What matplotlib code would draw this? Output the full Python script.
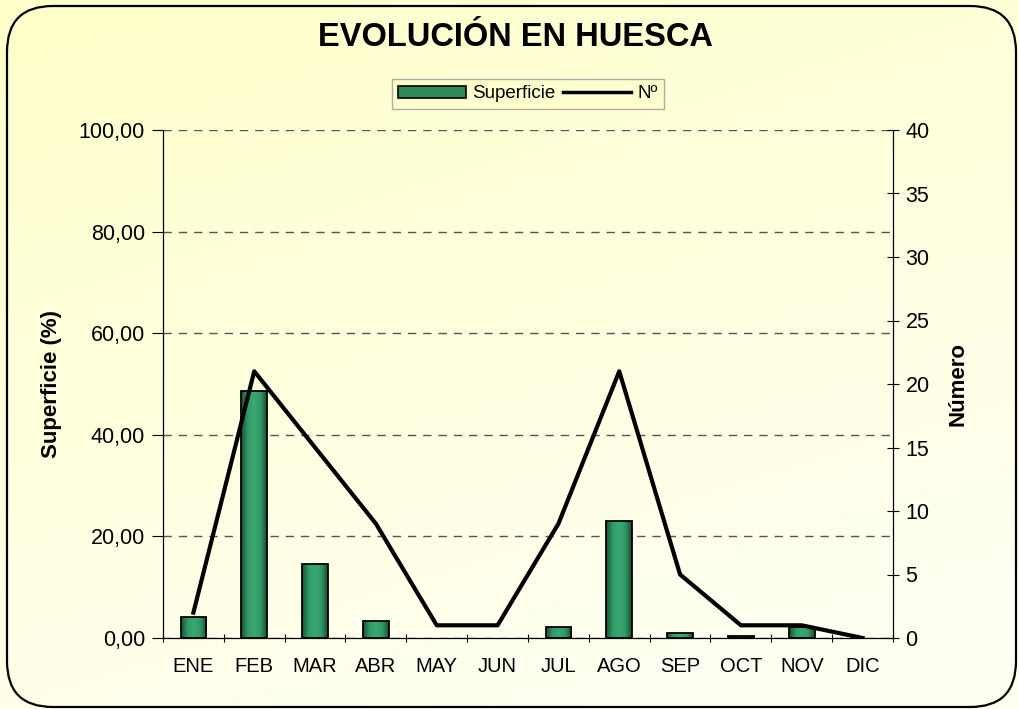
import numpy as np
import matplotlib
matplotlib.use("Agg")
import matplotlib.pyplot as plt
from matplotlib.patches import FancyBboxPatch, Patch
from matplotlib.lines import Line2D
from matplotlib.colors import LinearSegmentedColormap
from matplotlib.ticker import FuncFormatter, MultipleLocator, FixedLocator

plt.rcParams['font.family'] = ['Liberation Sans', 'DejaVu Sans']

months = ["ENE", "FEB", "MAR", "ABR", "MAY", "JUN", "JUL", "AGO", "SEP", "OCT", "NOV", "DIC"]
superficie = [4.2, 48.7, 14.5, 3.4, 0.0, 0.0, 2.2, 23.0, 1.0, 0.3, 2.1, 0.0]
numero = [2, 21, 15, 9, 1, 1, 9, 21, 5, 1, 1, 0]

W, H, DPI = 1020, 709, 100
fig = plt.figure(figsize=(W / DPI, H / DPI), dpi=DPI)
fig.patch.set_facecolor("white")

# background gradient (figure level)
bg_ax = fig.add_axes([0, 0, 1, 1], zorder=-10)
bg_ax.set_axis_off()
yy, xx = np.mgrid[0:1:200j, 0:1:300j]  # yy=0 at top (origin upper)
t = np.clip(yy * 0.8 + xx * 0.35, 0, 1)
c0 = np.array([1.0, 1.0, 0.79])
c1 = np.array([1.0, 1.0, 0.95])
img = c0[None, None, :] * (1 - t[..., None]) + c1[None, None, :] * t[..., None]
bg_ax.imshow(img, extent=[0, 1, 0, 1], aspect="auto", origin="upper")
bg_ax.set_xlim(0, 1)
bg_ax.set_ylim(0, 1)
border = FancyBboxPatch((7 / W, 2 / H), (W - 11) / W, (H - 8) / H,
                        boxstyle="round,pad=0,rounding_size=0.045",
                        mutation_aspect=W / H,
                        transform=bg_ax.transAxes, facecolor="none",
                        edgecolor="black", linewidth=1.6, clip_on=False)
bg_ax.add_patch(border)
# white outside the rounded border
bg_ax.add_patch(FancyBboxPatch((7 / W, 2 / H), (W - 11) / W, (H - 8) / H,
                               boxstyle="round,pad=0,rounding_size=0.045",
                               mutation_aspect=W / H, transform=bg_ax.transAxes,
                               facecolor="none", edgecolor="white", linewidth=14,
                               zorder=-1, clip_on=False))

left, right, top, bottom = 163, 893, 130, 638
ax = fig.add_axes([left / W, 1 - bottom / H, (right - left) / W, (bottom - top) / H])
ax.set_facecolor("none")
x = np.arange(len(months))
bars = ax.bar(x, superficie, width=0.42, color="#2E8B57", edgecolor="black",
              linewidth=1.3, zorder=3)

# gradient fill for bars
gcm = LinearSegmentedColormap.from_list("g", ["#1a4d33", "#2f9a66", "#3aa873", "#2f9a66", "#1a4d33"])
grad = np.linspace(0, 1, 64)[None, :]
for b in bars:
    if b.get_height() <= 0:
        b.set_visible(False)
        continue
    bx, by = b.get_x(), b.get_y()
    im = ax.imshow(grad, cmap=gcm, aspect="auto",
                   extent=[bx, bx + b.get_width(), by, by + b.get_height()],
                   zorder=3.5)
    im.set_clip_path(b)
    b.set_facecolor("none")
    b.set_zorder(4)

ax.set_xlim(-0.5, 11.5)
ax.set_ylim(0, 100)
ax.set_yticks([0, 20, 40, 60, 80, 100])
ax.yaxis.set_major_formatter(FuncFormatter(lambda v, p: f"{v:.2f}".replace(".", ",")))
ax.yaxis.grid(True, linestyle=(0, (6, 5)), color="#555555", linewidth=1.0)
ax.set_axisbelow(True)
ax.set_xticks(x)
ax.set_xticklabels(months)
ax.xaxis.set_minor_locator(FixedLocator(np.arange(-0.5, 12, 1)))
ax.tick_params(axis="x", which="major", length=0, pad=14, labelsize=14.5)
ax.tick_params(axis="x", which="minor", length=6, direction="inout", width=0.8)
ax.tick_params(axis="y", which="major", length=8, direction="out", width=0.8, labelsize=15.5, pad=5)
ax.spines["top"].set_visible(False)
ax.spines["right"].set_visible(False)
for s in ["left", "bottom"]:
    ax.spines[s].set_linewidth(0.9)
ax.set_ylabel("Superficie (%)", fontsize=16, fontweight="bold", labelpad=12)

ax2 = ax.twinx()
line, = ax2.plot(x, numero, color="black", linewidth=3, zorder=5)
ax2.set_ylim(0, 40)
ax2.yaxis.set_major_locator(MultipleLocator(5))
ax2.tick_params(axis="y", length=8, direction="inout", width=0.8, labelsize=15.5, pad=5)
for s in ["top", "left", "bottom"]:
    ax2.spines[s].set_visible(False)
ax2.spines["right"].set_linewidth(0.9)
ax2.set_ylabel("Número", fontsize=16, fontweight="bold", labelpad=13)
ax2.set_zorder(ax.get_zorder() + 1)
ax2.patch.set_visible(False)

fig.text(515 / W, 1 - 37 / H, "EVOLUCIÓN EN HUESCA", ha="center", va="center",
         fontsize=23.5, fontweight="bold")

leg = fig.legend([Patch(facecolor="#2E8B57", edgecolor="black", linewidth=1.2),
                  Line2D([0], [0], color="black", linewidth=2.5)],
                 ["Superficie", "Nº"], loc="center", bbox_to_anchor=(528 / W, 1 - 94 / H),
                 ncol=2, frameon=True, fontsize=13.5, handlelength=3.6, handleheight=0.55,
                 columnspacing=0.4, handletextpad=0.35, borderpad=0.35, fancybox=False)
leg.get_frame().set_edgecolor("#999999")
leg.get_frame().set_facecolor("#ffffcc")
leg.get_frame().set_linewidth(1.0)

fig.savefig("out.png", dpi=DPI)
